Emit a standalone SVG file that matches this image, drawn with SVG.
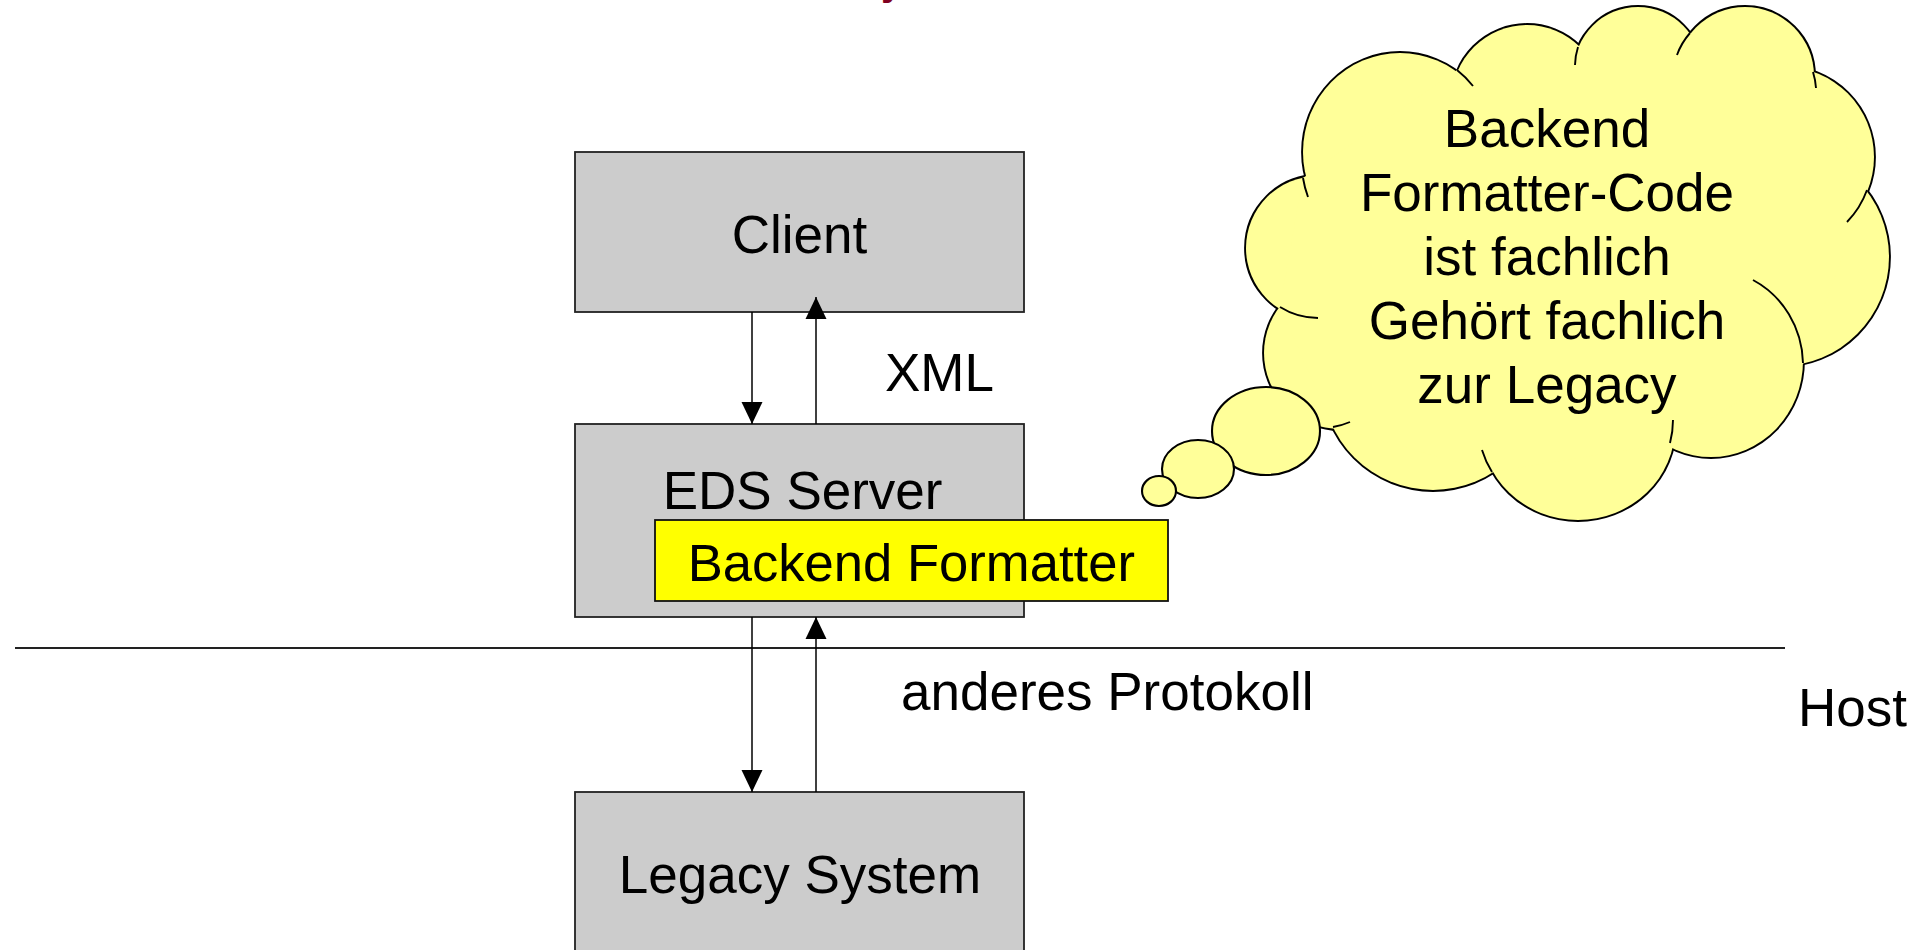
<svg xmlns="http://www.w3.org/2000/svg" width="1926" height="950" viewBox="0 0 1926 950">
<style>
.box{fill:#CCCCCC;stroke:#222;stroke-width:1.8}
.fmt{fill:#FFFF00;stroke:#111;stroke-width:1.8}
.t{font-family:"Liberation Sans",Arial,sans-serif;font-size:53px;fill:#000}
.c{text-anchor:middle}
.con{stroke:#000;stroke-width:1.5;fill:none}
.lobe{fill:#FFFF99;stroke:#000;stroke-width:3.8}
.fill{fill:#FFFF99;stroke:none}
.tail{fill:none;stroke:#000;stroke-width:1.9}
.bub{fill:#FFFF99;stroke:#000;stroke-width:2.1}
</style>
<defs>
<marker id="ah" markerUnits="userSpaceOnUse" markerWidth="22" markerHeight="22" viewBox="0 0 22 21" refX="22" refY="10.5" orient="auto">
<path d="M0,0 L22,10.5 L0,21 Z" fill="#000"/>
</marker>
</defs>
<rect width="1926" height="950" fill="#fff"/>
<text x="881" y="-5" style="font-family:'Liberation Sans',Arial,sans-serif;font-size:40px;font-weight:bold" fill="#800020">y</text>

<g id="node-client">
<rect class="box" x="575" y="152" width="449" height="160"/>
<text class="t c" x="799.5" y="252.7">Client</text>
</g>
<g id="node-eds">
<rect class="box" x="575" y="424" width="449" height="193"/>
<text class="t" x="662.7" y="509">EDS Server</text>
</g>
<g id="node-formatter">
<rect class="fmt" x="655" y="520" width="513" height="81"/>
<text class="t" x="687.7" y="580.7" style="font-size:52.6px">Backend Formatter</text>
</g>
<g id="node-legacy">
<rect class="box" x="575" y="792" width="449" height="170"/>
<text class="t c" x="800" y="892.7">Legacy System</text>
</g>

<g id="separator">
<line x1="15" y1="648" x2="1785" y2="648" stroke="#222" stroke-width="2"/>
<text class="t" x="1798" y="725.7">Host</text>
</g>

<g id="connectors">
<line class="con" x1="752" y1="312" x2="752" y2="424" marker-end="url(#ah)"/>
<line class="con" x1="816" y1="424" x2="816" y2="297" marker-end="url(#ah)"/>
<line class="con" x1="752" y1="617" x2="752" y2="792" marker-end="url(#ah)"/>
<line class="con" x1="816" y1="792" x2="816" y2="617" marker-end="url(#ah)"/>
<text class="t" x="885" y="391">XML</text>
<text class="t" x="901" y="710">anderes Protokoll</text>
</g>

<g id="node-cloud">
<g id="cloud-outline">
<ellipse class="lobe" cx="1400" cy="152" rx="97" ry="99"/>
<ellipse class="lobe" cx="1527" cy="100" rx="75" ry="75"/>
<ellipse class="lobe" cx="1638" cy="71" rx="64" ry="64"/>
<ellipse class="lobe" cx="1745" cy="76" rx="69" ry="69"/>
<ellipse class="lobe" cx="1784" cy="157" rx="90" ry="90"/>
<ellipse class="lobe" cx="1780" cy="257" rx="109" ry="109"/>
<ellipse class="lobe" cx="1711" cy="361" rx="92" ry="96"/>
<ellipse class="lobe" cx="1578" cy="427" rx="97" ry="93"/>
<ellipse class="lobe" cx="1433" cy="379" rx="111" ry="111"/>
<ellipse class="lobe" cx="1340" cy="353" rx="76" ry="76"/>
<ellipse class="lobe" cx="1318" cy="248" rx="72" ry="72"/>
</g>
<g id="cloud-fill">
<ellipse class="fill" cx="1400" cy="152" rx="97" ry="99"/>
<ellipse class="fill" cx="1527" cy="100" rx="75" ry="75"/>
<ellipse class="fill" cx="1638" cy="71" rx="64" ry="64"/>
<ellipse class="fill" cx="1745" cy="76" rx="69" ry="69"/>
<ellipse class="fill" cx="1784" cy="157" rx="90" ry="90"/>
<ellipse class="fill" cx="1780" cy="257" rx="109" ry="109"/>
<ellipse class="fill" cx="1711" cy="361" rx="92" ry="96"/>
<ellipse class="fill" cx="1578" cy="427" rx="97" ry="93"/>
<ellipse class="fill" cx="1433" cy="379" rx="111" ry="111"/>
<ellipse class="fill" cx="1340" cy="353" rx="76" ry="76"/>
<ellipse class="fill" cx="1318" cy="248" rx="72" ry="72"/>
<polygon class="fill" points="1303,178 1457,70 1578,47 1690,33 1813,72 1867,190 1803,363 1670,443 1492,472 1333,427 1280,307"/>
</g>
<g id="cloud-tails">
<path class="tail" d="M1303,178 A97,99 0 0 0 1308,197"/>
<path class="tail" d="M1457,70 A97,99 0 0 1 1473,86"/>
<path class="tail" d="M1578,47 A64,64 0 0 0 1575,65"/>
<path class="tail" d="M1690,33 A69,69 0 0 0 1677,55"/>
<path class="tail" d="M1813,72 A69,69 0 0 1 1816,88"/>
<path class="tail" d="M1867,190 A90,90 0 0 1 1847,222"/>
<path class="tail" d="M1753,280 A92,96 0 0 1 1803,363"/>
<path class="tail" d="M1670,443 A97,93 0 0 0 1673,420"/>
<path class="tail" d="M1492,472 A97,93 0 0 1 1482,450"/>
<path class="tail" d="M1333,427 A76,76 0 0 0 1350,422"/>
<path class="tail" d="M1280,307 A72,72 0 0 0 1318,318"/>
</g>
<ellipse class="bub" cx="1266" cy="431" rx="54" ry="44"/>
<ellipse class="bub" cx="1198" cy="469" rx="36" ry="29"/>
<ellipse class="bub" cx="1159" cy="491" rx="17" ry="15"/>
<text class="t c" x="1547" y="146.7">Backend</text>
<text class="t c" x="1547" y="210.7">Formatter-Code</text>
<text class="t c" x="1547" y="275">ist fachlich</text>
<text class="t c" x="1547" y="339.3">Gehört fachlich</text>
<text class="t c" x="1547" y="403.3">zur Legacy</text>
</g>
</svg>
